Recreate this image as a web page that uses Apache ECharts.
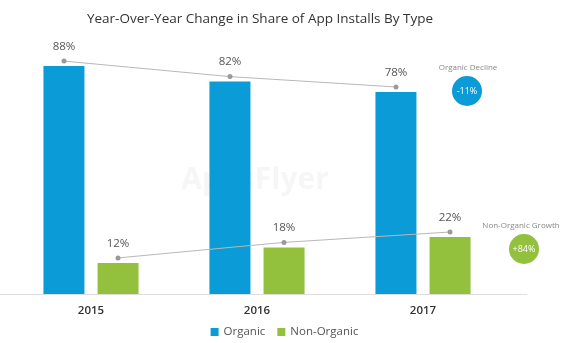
<!DOCTYPE html>
<html>
<head>
<meta charset="utf-8">
<script src="https://cdn.jsdelivr.net/npm/echarts@6/dist/echarts.min.js"></script>
<style>html,body{margin:0;padding:0;background:#fff}#c{width:569px;height:343px}</style>
</head>
<body>
<div id="c"></div>
<script>
const categories = ['2015', '2016', '2017'];
const organic = [88, 82, 78];
const nonOrganic = [12, 18, 22];
const seriesNames = ['Organic', 'Non-Organic'];
const changeLabels = ['Organic Decline', 'Non-Organic Growth'];
const changeValues = ['-11%', '+84%'];
const titleText = 'Year-Over-Year Change in Share of App Installs By Type';

const BLUE = '#0b9bd7', GREEN = '#93c13e';
const FONT = 'Open Sans';
const chart = echarts.init(document.getElementById('c'), null, {renderer: 'canvas'});
const gridLeft = 8, gridW = 498, gridTop = 35, gridH = 259;
const lineShift = 5, barOffset = 27;
const catW = gridW / categories.length;
const lineW = catW * (categories.length - 1);
const hiddenCat = (gi) => ({type: 'category', gridIndex: gi, data: categories, show: false, boundaryGap: false});
const hiddenVal = (gi) => ({type: 'value', gridIndex: gi, min: 0, max: 100, show: false});
const trend = (name, data, gi) => ({
  name: name, type: 'line', xAxisIndex: gi, yAxisIndex: gi, data: data,
  symbol: 'circle', symbolSize: 5,
  lineStyle: {color: '#b8b8b8', width: 1}, itemStyle: {color: '#9a9a9a'},
  label: {show: true, position: 'top', distance: 6, formatter: '{c}%', fontFamily: FONT, fontSize: 11.5, color: '#555'},
  z: 5
});

chart.setOption({
  animation: false,
  backgroundColor: '#fff',
  title: {
    text: titleText, left: 255, top: 7, textAlign: 'center',
    textStyle: {fontFamily: FONT, fontSize: 13.5, fontWeight: 500, color: '#333'}
  },
  legend: {
    data: seriesNames, top: 321, left: 'center', itemWidth: 8, itemHeight: 8, itemGap: 12,
    icon: 'rect',
    textStyle: {fontFamily: FONT, fontSize: 11.5, color: '#555'}
  },
  grid: [
    {left: gridLeft, top: gridTop, width: gridW, height: gridH},
    {left: gridLeft + catW / 2 - barOffset, top: gridTop - lineShift, width: lineW, height: gridH},
    {left: gridLeft + catW / 2 + barOffset, top: gridTop - lineShift, width: lineW, height: gridH},
    {left: 0, top: gridTop, width: 527, height: gridH}
  ],
  xAxis: [
    {type: 'category', gridIndex: 0, data: categories,
     axisLine: {show: false}, axisTick: {show: false},
     axisLabel: {fontFamily: FONT, fontSize: 11.5, color: '#333', fontWeight: 600, margin: 11}},
    hiddenCat(1),
    hiddenCat(2),
    {type: 'value', gridIndex: 3, min: 0, max: 1, axisLine: {show: true, lineStyle: {color: '#ddd', width: 1}},
     axisTick: {show: false}, axisLabel: {show: false}, splitLine: {show: false}}
  ],
  yAxis: [
    {type: 'value', gridIndex: 0, min: 0, max: 100, show: false},
    hiddenVal(1),
    hiddenVal(2),
    {type: 'value', gridIndex: 3, min: 0, max: 1, show: false}
  ],
  series: [
    {name: seriesNames[0], type: 'bar', xAxisIndex: 0, yAxisIndex: 0, data: organic,
     barWidth: 41, barGap: '32%', itemStyle: {color: BLUE}},
    {name: seriesNames[1], type: 'bar', xAxisIndex: 0, yAxisIndex: 0, data: nonOrganic,
     barWidth: 41, barGap: '32%', itemStyle: {color: GREEN}},
    trend('organicTrend', organic, 1),
    trend('nonOrganicTrend', nonOrganic, 2)
  ],
  graphic: [
    {type: 'text', position: [255, 180], style: {text: 'AppsFlyer', fill: '#f6f6f6', font: 'bold 30px ' + FONT, textAlign: 'center', textVerticalAlign: 'middle'}, z: -1},
    {type: 'text', position: [468, 68], style: {text: changeLabels[0], fill: '#888', font: '8px ' + FONT, textAlign: 'center', textVerticalAlign: 'middle'}},
    {type: 'circle', shape: {cx: 467, cy: 91, r: 15}, style: {fill: BLUE}},
    {type: 'text', position: [467, 91], style: {text: changeValues[0], fill: '#fff', font: '9px ' + FONT, textAlign: 'center', textVerticalAlign: 'middle'}},
    {type: 'text', position: [521, 226], style: {text: changeLabels[1], fill: '#888', font: '8px ' + FONT, textAlign: 'center', textVerticalAlign: 'middle'}},
    {type: 'circle', shape: {cx: 524, cy: 249, r: 15}, style: {fill: GREEN}},
    {type: 'text', position: [524, 249], style: {text: changeValues[1], fill: '#fff', font: '9px ' + FONT, textAlign: 'center', textVerticalAlign: 'middle'}}
  ]
});
</script>
</body>
</html>
